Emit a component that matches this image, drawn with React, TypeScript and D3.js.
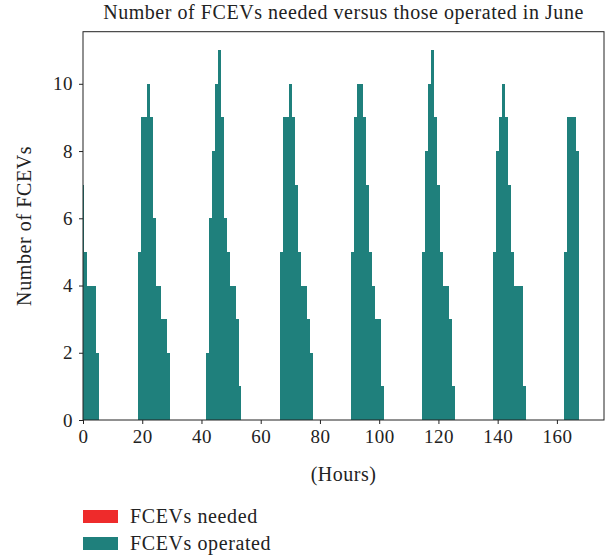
import { useEffect, useRef } from 'react';
import * as d3 from 'd3';

// hourly values for one week (168 h), one row per day
const operated: number[] = [
  7, 5, 4, 4, 4, 2, 0, 0, 0, 0, 0, 0, 0, 0, 0, 0, 0, 0, 0, 5, 9, 9, 10, 9,
  6, 4, 4, 3, 3, 2, 0, 0, 0, 0, 0, 0, 0, 0, 0, 0, 0, 0, 2, 6, 8, 10, 11, 9,
  6, 5, 4, 4, 3, 1, 0, 0, 0, 0, 0, 0, 0, 0, 0, 0, 0, 0, 0, 5, 9, 9, 10, 9,
  7, 5, 4, 4, 3, 2, 0, 0, 0, 0, 0, 0, 0, 0, 0, 0, 0, 0, 0, 5, 9, 10, 10, 9,
  7, 5, 4, 3, 3, 1, 0, 0, 0, 0, 0, 0, 0, 0, 0, 0, 0, 0, 0, 5, 8, 10, 11, 9,
  7, 5, 4, 4, 3, 1, 0, 0, 0, 0, 0, 0, 0, 0, 0, 0, 0, 0, 0, 5, 8, 9, 10, 9,
  7, 5, 4, 4, 4, 1, 0, 0, 0, 0, 0, 0, 0, 0, 0, 0, 0, 0, 0, 5, 9, 9, 9, 8,
];

// needed never exceeds operated, so the red bars stay hidden behind the teal ones
const needed: number[] = [
  7, 5, 4, 4, 4, 2, 0, 0, 0, 0, 0, 0, 0, 0, 0, 0, 0, 0, 0, 5, 9, 9, 10, 9,
  6, 4, 4, 3, 3, 2, 0, 0, 0, 0, 0, 0, 0, 0, 0, 0, 0, 0, 2, 6, 8, 10, 11, 9,
  6, 5, 4, 4, 3, 1, 0, 0, 0, 0, 0, 0, 0, 0, 0, 0, 0, 0, 0, 5, 9, 9, 10, 9,
  7, 5, 4, 4, 3, 2, 0, 0, 0, 0, 0, 0, 0, 0, 0, 0, 0, 0, 0, 5, 9, 10, 10, 9,
  7, 5, 4, 3, 3, 1, 0, 0, 0, 0, 0, 0, 0, 0, 0, 0, 0, 0, 0, 5, 8, 10, 11, 9,
  7, 5, 4, 4, 3, 1, 0, 0, 0, 0, 0, 0, 0, 0, 0, 0, 0, 0, 0, 5, 8, 9, 10, 9,
  7, 5, 4, 4, 4, 1, 0, 0, 0, 0, 0, 0, 0, 0, 0, 0, 0, 0, 0, 5, 9, 9, 9, 8,
];

const xTicks = [0, 20, 40, 60, 80, 100, 120, 140, 160];
const yTicks = [0, 2, 4, 6, 8, 10];
const legendItems = [
  { label: 'FCEVs needed', color: '#ee2b2b' },
  { label: 'FCEVs operated', color: '#1f807c' },
];

export default function App() {
  const svgRef = useRef<SVGSVGElement>(null);

  useEffect(() => {
    const svg = d3.select(svgRef.current);
    svg.selectAll('*').remove();

    const W = 605, H = 556;
    const left = 83, right = 604, top = 31.7, bottom = 420;
    const font = '"Liberation Serif", "Times New Roman", serif';

    svg.attr('width', W).attr('height', H).attr('viewBox', `0 0 ${W} ${H}`);

    const x = d3.scaleLinear().domain([0, 175.9]).range([left, right]);
    const y = d3.scaleLinear().domain([0, 11.55]).range([bottom, top]);

    svg.append('defs').append('clipPath').attr('id', 'plot-clip')
      .append('rect')
      .attr('x', left).attr('y', top)
      .attr('width', right - left).attr('height', bottom - top);

    const plot = svg.append('g').attr('clip-path', 'url(#plot-clip)');

    // needed first, operated on top (crisp edges so no red fringe shows through)
    const drawSeries = (vals: number[], color: string) => {
      plot.append('g')
        .attr('shape-rendering', 'crispEdges')
        .selectAll('rect')
        .data(vals.map((v, h) => ({ h, v })).filter(d => d.v > 0))
        .join('rect')
        .attr('x', d => x(d.h - 0.5))
        .attr('width', d => x(d.h + 0.5) - x(d.h - 0.5))
        .attr('y', d => y(d.v))
        .attr('height', d => y(0) - y(d.v))
        .attr('fill', color);
    };
    drawSeries(needed, legendItems[0].color);
    drawSeries(operated, legendItems[1].color);

    // frame
    svg.append('rect')
      .attr('x', left).attr('y', top)
      .attr('width', right - left).attr('height', bottom - top)
      .attr('fill', 'none').attr('stroke', '#222').attr('stroke-width', 1);

    // x axis
    const xAxis = d3.axisBottom(x).tickValues(xTicks).tickSizeInner(4).tickSizeOuter(0).tickPadding(6);
    svg.append('g')
      .attr('transform', `translate(0,${bottom})`)
      .call(xAxis)
      .call(ax => ax.select('.domain').remove())
      .call(ax => ax.selectAll('line').attr('stroke', '#222'))
      .call(ax => ax.selectAll('text').attr('font-size', 19).attr('font-family', font).attr('fill', '#222')
        .attr('letter-spacing', 0.5));

    // y axis
    const yAxis = d3.axisLeft(y).tickValues(yTicks).tickSizeInner(4).tickSizeOuter(0).tickPadding(6);
    svg.append('g')
      .attr('transform', `translate(${left},0)`)
      .call(yAxis)
      .call(ax => ax.select('.domain').remove())
      .call(ax => ax.selectAll('line').attr('stroke', '#222'))
      .call(ax => ax.selectAll('text').attr('font-size', 19).attr('font-family', font).attr('fill', '#222')
        .attr('letter-spacing', 0.5));

    // title + axis labels
    svg.append('text')
      .attr('x', (left + right) / 2).attr('y', 19)
      .attr('text-anchor', 'middle')
      .attr('font-size', 20).attr('font-family', font).attr('fill', '#222')
      .attr('letter-spacing', 0.55)
      .text('Number of FCEVs needed versus those operated in June');

    svg.append('text')
      .attr('x', (left + right) / 2).attr('y', 481)
      .attr('text-anchor', 'middle')
      .attr('font-size', 20).attr('font-family', font).attr('fill', '#222')
      .attr('letter-spacing', 0.5)
      .text('(Hours)');

    svg.append('text')
      .attr('transform', 'rotate(-90)')
      .attr('x', -(top + bottom) / 2).attr('y', 31)
      .attr('text-anchor', 'middle')
      .attr('font-size', 20).attr('font-family', font).attr('fill', '#222')
      .attr('letter-spacing', 0.6)
      .text('Number of FCEVs');

    // legend
    const lg = svg.append('g').attr('transform', 'translate(83,510)');
    legendItems.forEach((d, i) => {
      lg.append('rect')
        .attr('x', 0).attr('y', i * 27)
        .attr('width', 35).attr('height', 13)
        .attr('fill', d.color);
      lg.append('text')
        .attr('x', 47).attr('y', i * 27 + 13)
        .attr('font-size', 20).attr('font-family', font).attr('fill', '#222')
        .attr('letter-spacing', 0.6)
        .text(d.label);
    });
  }, []);

  return (
    <svg
      ref={svgRef}
      style={{ position: 'absolute', left: 0, top: 0 }}
      role="img"
      aria-label="Number of FCEVs needed versus those operated in June"
    />
  );
}
